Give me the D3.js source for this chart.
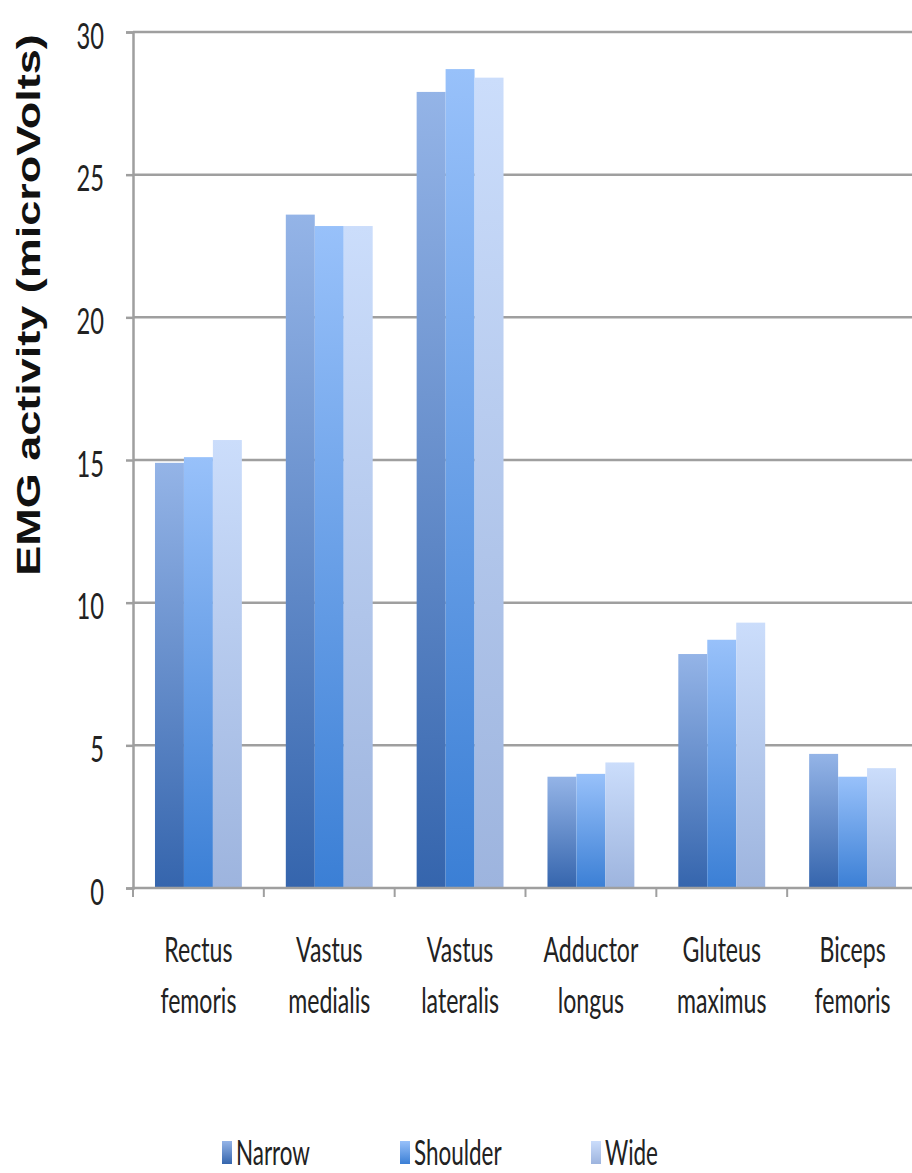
<!DOCTYPE html>
<html>
<head>
<meta charset="utf-8">
<script src="https://cdn.jsdelivr.net/npm/d3@7"></script>
<style>
  html, body { margin: 0; padding: 0; background: #fff; }
  svg { display: block; }
</style>
</head>
<body>
<svg id="chart" width="912" height="1173"></svg>
<script>
// Muscles (two-line labels) and stance widths
const categories = [
  ["Rectus", "femoris"],
  ["Vastus", "medialis"],
  ["Vastus", "lateralis"],
  ["Adductor", "longus"],
  ["Gluteus", "maximus"],
  ["Biceps", "femoris"]
];
const seriesNames = ["Narrow", "Shoulder", "Wide"];

// Mean EMG activity (microVolts) per muscle, one array per stance
const narrow   = [14.9, 23.6, 27.9, 3.9, 8.2, 4.7];
const shoulder = [15.1, 23.2, 28.7, 4.0, 8.7, 3.9];
const wide     = [15.7, 23.2, 28.4, 4.4, 9.3, 4.2];

const yTicks = [0, 5, 10, 15, 20, 25, 30];
const yTitle = "EMG activity (microVolts)";

const seriesValues = [narrow, shoulder, wide];
const gradients = [
  { top: "#94b4e7", bottom: "#3565ad" },
  { top: "#98c1fa", bottom: "#3b7fd5" },
  { top: "#cbddfb", bottom: "#9db4de" }
];

const svg = d3.select("#chart");
const plotLeft = 133, plotRight = 918, plotTop = 32, plotBottom = 888;
const catKeys = categories.map(c => c.join(" "));

const x0 = d3.scaleBand().domain(catKeys).range([plotLeft, plotRight]).paddingInner(0).paddingOuter(0);
const bw = x0.bandwidth();
const x1 = d3.scaleBand().domain(seriesNames).range([bw * 0.168, bw * 0.832]).padding(0);
const y = d3.scaleLinear().domain([0, 30]).range([plotBottom, plotTop]);

// Vertical gradient fills
const defs = svg.append("defs");
gradients.forEach((g, i) => {
  const lg = defs.append("linearGradient")
    .attr("id", "grad" + i)
    .attr("x1", 0).attr("y1", 0).attr("x2", 0).attr("y2", 1);
  lg.append("stop").attr("offset", "0%").attr("stop-color", g.top);
  lg.append("stop").attr("offset", "100%").attr("stop-color", g.bottom);
});

const fontFamily = "Lato, 'Open Sans', 'Liberation Sans', sans-serif";
const gridColor = "#9f9f9f";

// Horizontal gridlines
svg.append("g")
  .selectAll("line")
  .data(yTicks.filter(t => t > 0))
  .join("line")
  .attr("x1", plotLeft).attr("x2", 912)
  .attr("y1", d => y(d)).attr("y2", d => y(d))
  .attr("stroke", gridColor).attr("stroke-width", 2.5);

// Y axis
const yAxis = svg.append("g")
  .attr("transform", `translate(${plotLeft},0)`)
  .call(d3.axisLeft(y).tickValues(yTicks).tickSize(7).tickPadding(22).tickFormat(d3.format("d")));
yAxis.select(".domain").attr("stroke", gridColor).attr("stroke-width", 2.5);
yAxis.selectAll(".tick line").attr("stroke", gridColor).attr("stroke-width", 2.5);
yAxis.selectAll(".tick text").each(function () {
  const t = d3.select(this);
  const xPos = +t.attr("x");
  t.attr("x", null).attr("dy", null)
    .attr("transform", `translate(${xPos},16) scale(0.64,1)`)
    .attr("font-family", fontFamily)
    .attr("font-size", 37)
    .attr("fill", "#222")
    .attr("text-anchor", "end");
});

// Bars
const groups = svg.append("g")
  .selectAll("g")
  .data(catKeys)
  .join("g")
  .attr("transform", d => `translate(${x0(d)},0)`);

groups.selectAll("rect")
  .data((d, i) => seriesNames.map((s, j) => ({ s, j, v: seriesValues[j][i] })))
  .join("rect")
  .attr("x", d => x1(d.s))
  .attr("width", x1.bandwidth())
  .attr("y", d => y(d.v))
  .attr("height", d => y(0) - y(d.v))
  .attr("fill", d => `url(#grad${d.j})`);

// X axis line and category separators
svg.append("line")
  .attr("x1", plotLeft - 1).attr("x2", 912)
  .attr("y1", plotBottom).attr("y2", plotBottom)
  .attr("stroke", gridColor).attr("stroke-width", 2.5);
svg.append("g")
  .selectAll("line")
  .data(catKeys.map(k => x0(k)).concat([plotRight]))
  .join("line")
  .attr("x1", d => d).attr("x2", d => d)
  .attr("y1", plotBottom).attr("y2", plotBottom + 9)
  .attr("stroke", gridColor).attr("stroke-width", 2);

// Category labels (two lines)
const labels = svg.append("g")
  .selectAll("g")
  .data(categories)
  .join("g")
  .attr("transform", (d, i) => `translate(${x0(catKeys[i]) + bw / 2},0)`);
[962, 1013].forEach((baseY, line) => {
  labels.append("text")
    .attr("transform", `translate(0,${baseY}) scale(0.66,1)`)
    .attr("text-anchor", "middle")
    .attr("font-family", fontFamily)
    .attr("font-size", 35)
    .attr("fill", "#222")
    .text(d => d[line]);
});

// Y axis title
svg.append("text")
  .attr("transform", "translate(40,305) rotate(-90) scale(1,0.72)")
  .attr("text-anchor", "middle")
  .attr("font-family", "'Liberation Sans', Arial, sans-serif")
  .attr("font-weight", "bold")
  .attr("font-size", 45)
  .attr("fill", "#111")
  .text(yTitle);

// Legend
const legendX = [222, 400, 591];
const legend = svg.append("g")
  .selectAll("g")
  .data(seriesNames)
  .join("g")
  .attr("transform", (d, i) => `translate(${legendX[i]},0)`);
legend.append("rect")
  .attr("x", 0).attr("y", 1141)
  .attr("width", 10).attr("height", 23)
  .attr("fill", (d, i) => `url(#grad${i})`);
legend.append("text")
  .attr("transform", "translate(14,1165) scale(0.66,1)")
  .attr("font-family", fontFamily)
  .attr("font-size", 34)
  .attr("fill", "#222")
  .text(d => d);
</script>
</body>
</html>
